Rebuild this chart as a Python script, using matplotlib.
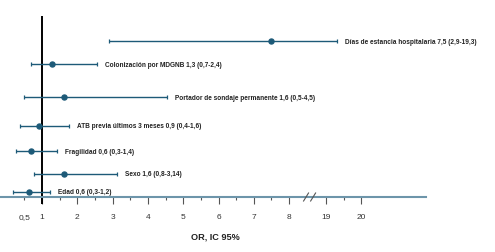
import numpy as np
import matplotlib
matplotlib.use("Agg")
import matplotlib.pyplot as plt
from matplotlib import font_manager

# ---------------- data ----------------
labels = [
    "Días de estancia hospitalaria 7,5 (2,9-19,3)",
    "Colonización por MDGNB 1,3 (0,7-2,4)",
    "Portador de sondaje permanente 1,6 (0,5-4,5)",
    "ATB previa últimos 3 meses 0,9 (0,4-1,6)",
    "Fragilidad 0,6 (0,3-1,4)",
    "Sexo 1,6 (0,8-3,14)",
    "Edad 0,6 (0,3-1,2)",
]
or_est = [7.5, 1.28, 1.62, 0.91, 0.70, 1.62, 0.62]
ci_low = [2.9, 0.69, 0.49, 0.38, 0.26, 0.77, 0.17]
ci_high = [19.3, 2.56, 4.54, 1.76, 1.43, 3.13, 1.23]

tick_values = [0.5, 1, 2, 3, 4, 5, 6, 7, 8, 19, 20]
tick_labels = ["0,5", "1", "2", "3", "4", "5", "6", "7", "8", "19", "20"]
minor_values = [1.5, 2.5, 3.5, 4.5, 5.5, 6.5, 7.5, 19.5]
xlabel = "OR, IC 95%"

# ---------------- layout ----------------
row_y = [42, 65, 98, 127, 152, 175, 193]   # row positions (pixels from top)
axis_y = 198
BREAK_LO, BREAK_HI, GAP_POS = 8.5, 19, 9.05


def pos(v):
    v = np.asarray(v, dtype=float)
    return np.where(v <= BREAK_LO, v, v - BREAK_HI + GAP_POS)


avail = {f.name for f in font_manager.fontManager.ttflist}
lab_font = "Liberation Sans Narrow" if "Liberation Sans Narrow" in avail else "Liberation Sans"

W, H = 495, 253
fig = plt.figure(figsize=(W / 100, H / 100), dpi=100)
ax = fig.add_axes([0, 0, 1, 1])
scale = 35.3  # px per unit
x0 = 1 - 42 / scale
ax.set_xlim(x0, x0 + W / scale)
ax.set_ylim(H, 0)

line_col = "#1d5a78"
axis_col = "#6d95aa"

# vertical reference line at OR = 1
ax.plot([1, 1], [17, 205], color="black", lw=1.4, zorder=2, solid_capstyle="butt")

est = pos(or_est)
lo = pos(ci_low)
hi = pos(ci_high)
ax.errorbar(est, row_y, xerr=[est - lo, hi - est], fmt="o", color=line_col,
            ms=3.6, lw=1.0, capsize=1.3, capthick=0.9, zorder=3)

for lab, h, y in zip(labels, hi, row_y):
    ax.annotate(lab, (h, y), xytext=(5.8, 0), textcoords="offset points",
                ha="left", va="center", fontsize=4.7, fontweight="bold",
                family=[lab_font, "DejaVu Sans"], color="#222222")

# axis
for s in ["top", "right", "left"]:
    ax.spines[s].set_visible(False)
ax.spines["bottom"].set_position(("data", axis_y))
ax.spines["bottom"].set_bounds(x0, 11.88)
ax.spines["bottom"].set_color(axis_col)
ax.spines["bottom"].set_linewidth(1.5)
ax.set_yticks([])
ax.set_xticks(pos(tick_values))
ax.set_xticklabels(tick_labels)
ax.set_xticks(pos(minor_values), minor=True)
ax.tick_params(axis="x", which="major", direction="out", length=5, width=0.8,
               color="#555555", labelsize=6, labelcolor="#333333", pad=6.5)
ax.tick_params(axis="x", which="minor", direction="out", length=2.5, width=0.8,
               color="#555555")
for t in ax.xaxis.get_major_ticks()[:1]:
    t.tick1line.set_markersize(2.5)
for lab in ax.get_xticklabels():
    lab.set_family(["Liberation Sans", "DejaVu Sans"])

# break marks
for bx in [8.48, 8.68]:
    ax.plot([bx - 0.07, bx + 0.07], [202, 194], color="#555555", lw=0.8, zorder=4)

ax.text(pos(5.9), 237, xlabel, ha="center", va="center", fontsize=6.6,
        fontweight="bold", family=["Liberation Sans", "DejaVu Sans"], color="#222222")

fig.savefig("out.png", dpi=100)
